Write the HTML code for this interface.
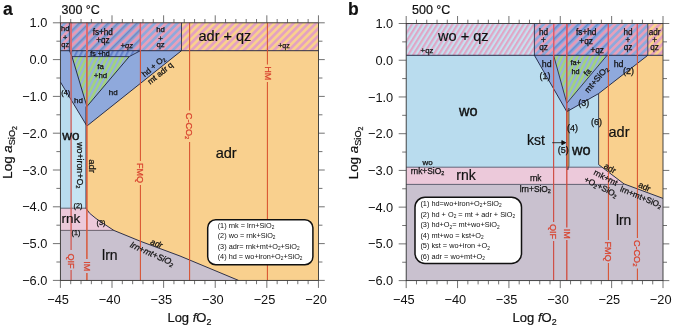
<!DOCTYPE html>
<html><head><meta charset="utf-8"><title>fig</title>
<style>
html,body{margin:0;padding:0;background:#fff;}
body{width:675px;height:329px;overflow:hidden;}
svg{display:block;font-family:"Liberation Sans",sans-serif;will-change:transform;}

</style></head><body>
<svg width="675" height="329" viewBox="0 0 675 329" fill="#111">
<defs>
<pattern id="pOP" width="5.3" height="5.3" patternUnits="userSpaceOnUse" patternTransform="rotate(45)"><rect width="5.3" height="5.3" fill="#f9d08e"/><rect width="2.65" height="5.3" fill="#e4a2c0"/></pattern>
<pattern id="pBP" width="5.3" height="5.3" patternUnits="userSpaceOnUse" patternTransform="rotate(45)"><rect width="5.3" height="5.3" fill="#8fa9dc"/><rect width="2.65" height="5.3" fill="#e6a0bb"/></pattern>
<pattern id="pBP2" width="6.8" height="6.8" patternUnits="userSpaceOnUse" patternTransform="rotate(45)"><rect x="0.00" width="2.77" height="6.8" fill="#e898b6"/><rect x="2.72" width="1.34" height="6.8" fill="#8fa9de"/><rect x="4.01" width="1.55" height="6.8" fill="#5c7ac8"/><rect x="5.51" width="1.34" height="6.8" fill="#8fa9de"/></pattern>
<pattern id="pBL" width="4.55" height="4.55" patternUnits="userSpaceOnUse" patternTransform="rotate(27)"><rect width="4.55" height="4.55" fill="#8fa9dc"/><rect width="2.05" height="4.55" fill="#6482cc"/></pattern>
<pattern id="pGB" width="4.55" height="4.55" patternUnits="userSpaceOnUse" patternTransform="rotate(27)"><rect width="4.55" height="4.55" fill="#a2d47c"/><rect width="2.05" height="4.55" fill="#96b0dc"/></pattern>
<pattern id="pLP" width="4.3" height="4.3" patternUnits="userSpaceOnUse" patternTransform="rotate(32)"><rect width="4.3" height="4.3" fill="#c6e0f0"/><rect width="2.15" height="4.3" fill="#dfa6c6"/></pattern>
</defs>
<rect width="675" height="329" fill="#fff"/>
<polygon points="60.4,22.8 318.4,22.8 318.4,280.4 60.4,280.4" fill="#f9d08e" stroke="none" stroke-width="0.8" stroke-linejoin="round"/>
<polygon points="60.4,230.4 113.8,230.4 141.0,241.5 180.0,256.0 238.5,280.4 60.4,280.4" fill="#c9c1cf" stroke="none" stroke-width="0.8" stroke-linejoin="round"/>
<polygon points="60.4,208.2 86.9,208.2 88.0,211.0 96.0,218.5 113.8,230.4 60.4,230.4" fill="#ecc9da" stroke="none" stroke-width="0.8" stroke-linejoin="round"/>
<polygon points="60.4,82.0 86.9,126.0 86.9,208.2 60.4,208.2" fill="#c6e4f3" stroke="none" stroke-width="0.8" stroke-linejoin="round"/>
<polygon points="60.4,82.0 71.1,99.6 71.1,208.2 60.4,208.2" fill="#b9dcee" stroke="none" stroke-width="0.8" stroke-linejoin="round"/>
<polygon points="60.4,50.7 181.5,50.7 86.9,126.0 60.4,82.0" fill="#8fa9dc" stroke="none" stroke-width="0.8" stroke-linejoin="round"/>
<polygon points="60.4,22.8 71.1,22.8 71.1,50.7 60.4,50.7" fill="url(#pBP)" stroke="none" stroke-width="0.8" stroke-linejoin="round"/>
<polygon points="71.1,22.8 140.4,22.8 140.4,50.7 71.1,50.7" fill="url(#pBP2)" stroke="none" stroke-width="0.8" stroke-linejoin="round"/>
<polygon points="140.4,22.8 181.5,22.8 181.5,50.7 140.4,50.7" fill="url(#pBP)" stroke="none" stroke-width="0.8" stroke-linejoin="round"/>
<polygon points="181.5,22.8 318.4,22.8 318.4,50.7 181.5,50.7" fill="url(#pOP)" stroke="none" stroke-width="0.8" stroke-linejoin="round"/>
<polygon points="70.0,50.7 140.4,50.7 129.2,56.6 72.0,56.6" fill="url(#pBL)" stroke="none" stroke-width="0.8" stroke-linejoin="round"/>
<polygon points="72.0,56.6 129.2,56.6 86.9,106.5" fill="url(#pGB)" stroke="none" stroke-width="0.8" stroke-linejoin="round"/>
<line x1="60.4" y1="50.7" x2="318.4" y2="50.7" stroke="#1a1f3c" stroke-width="0.9"/>
<line x1="181.5" y1="22.8" x2="181.5" y2="50.7" stroke="#1a1f3c" stroke-width="0.8"/>
<line x1="181.5" y1="50.7" x2="86.9" y2="126.0" stroke="#1a1f3c" stroke-width="0.9"/>
<line x1="60.4" y1="82.0" x2="86.9" y2="126.0" stroke="#1a1f3c" stroke-width="0.9"/>
<line x1="69.4" y1="22.8" x2="69.4" y2="50.7" stroke="#1a1f3c" stroke-width="0.7"/>
<line x1="69.4" y1="50.7" x2="72.0" y2="56.6" stroke="#1a1f3c" stroke-width="0.8"/>
<line x1="72.0" y1="56.6" x2="86.9" y2="106.5" stroke="#1a1f3c" stroke-width="0.9"/>
<line x1="72.0" y1="56.6" x2="129.2" y2="56.6" stroke="#1a1f3c" stroke-width="0.8"/>
<line x1="140.4" y1="50.7" x2="129.2" y2="56.6" stroke="#1a1f3c" stroke-width="0.8"/>
<line x1="129.2" y1="56.6" x2="86.9" y2="106.5" stroke="#1a1f3c" stroke-width="0.9"/>
<line x1="60.4" y1="208.2" x2="86.9" y2="208.2" stroke="#4a4a5c" stroke-width="0.8"/>
<line x1="60.4" y1="230.4" x2="113.8" y2="230.4" stroke="#4a4a5c" stroke-width="0.8"/>
<path d="M86.0,106.5 L86.0,208.2 Q88,213 96,218.5 T113.8,230.4 L141,241.5 L180,256 L238.5,280.4" fill="none" stroke="#1a1f3c" stroke-width="0.9"/>
<g id="redA">
<line x1="71.1" y1="22.8" x2="71.1" y2="250.0" stroke="#cf5a55" stroke-width="1.3"/>
<line x1="71.1" y1="270.0" x2="71.1" y2="280.4" stroke="#cf5a55" stroke-width="1.3"/>
<line x1="86.9" y1="22.8" x2="86.9" y2="259.0" stroke="#d9583a" stroke-width="1.5"/>
<line x1="86.9" y1="273.0" x2="86.9" y2="280.4" stroke="#d9583a" stroke-width="1.5"/>
<line x1="140.4" y1="22.8" x2="140.4" y2="161.0" stroke="#d8502e" stroke-width="1.05"/>
<line x1="140.4" y1="185.0" x2="140.4" y2="280.4" stroke="#d8502e" stroke-width="1.05"/>
<line x1="189.6" y1="22.8" x2="189.6" y2="110.5" stroke="#d8502e" stroke-width="1.05"/>
<line x1="189.6" y1="142.0" x2="189.6" y2="280.4" stroke="#d8502e" stroke-width="1.05"/>
<line x1="267.4" y1="22.8" x2="267.4" y2="64.5" stroke="#d8502e" stroke-width="1.05"/>
<line x1="267.4" y1="82.0" x2="267.4" y2="280.4" stroke="#d8502e" stroke-width="1.05"/>
<line x1="71.1" y1="22.8" x2="71.1" y2="50.7" stroke="#e06a72" stroke-width="1.6"/>
<line x1="86.9" y1="22.8" x2="86.9" y2="50.7" stroke="#e06a72" stroke-width="1.6"/>
<line x1="140.4" y1="22.8" x2="140.4" y2="50.7" stroke="#e0606a" stroke-width="1.3"/>
</g>
<text x="67.9" y="261.0" font-size="9.1" text-anchor="middle" transform="rotate(90 67.9 261.0)" fill="#d8432f" stroke="#d8432f" stroke-width="0.25" >QIF</text>
<text x="83.7" y="266.2" font-size="9.1" text-anchor="middle" transform="rotate(90 83.7 266.2)" fill="#d8432f" stroke="#d8432f" stroke-width="0.25" >IM</text>
<text x="137.2" y="173.0" font-size="9.1" text-anchor="middle" transform="rotate(90 137.2 173.0)" fill="#d8432f" stroke="#d8432f" stroke-width="0.25" >FMQ</text>
<text x="186.0" y="126.1" font-size="9.1" text-anchor="middle" transform="rotate(90 186.0 126.1)" fill="#d8432f" stroke="#d8432f" stroke-width="0.25" >C-CO<tspan dy="1.5" font-size="65%">2</tspan><tspan dy="-1.5">&#8203;</tspan></text>
<text x="264.6" y="73.3" font-size="9.1" text-anchor="middle" transform="rotate(90 264.6 73.3)" fill="#d8432f" stroke="#d8432f" stroke-width="0.25" >HM</text>
<text x="65.2" y="31.4" font-size="7.4" text-anchor="middle" stroke="#111" stroke-width="0.25" >hd</text>
<text x="65.2" y="40.2" font-size="7.4" text-anchor="middle" stroke="#111" stroke-width="0.25" >+</text>
<text x="65.2" y="46.6" font-size="7.4" text-anchor="middle" stroke="#111" stroke-width="0.25" >qz</text>
<text x="102.8" y="34.8" font-size="8.2" text-anchor="middle" stroke="#111" stroke-width="0.25" >fs+hd</text>
<text x="103.0" y="42.6" font-size="8.2" text-anchor="middle" stroke="#111" stroke-width="0.25" >+qz</text>
<text x="126.8" y="47.5" font-size="7.6" text-anchor="middle" stroke="#111" stroke-width="0.25" font-style="italic">+qz</text>
<text x="100.0" y="55.9" font-size="7" text-anchor="middle" stroke="#111" stroke-width="0.25" >fs +hd</text>
<text x="160.5" y="32.0" font-size="7.8" text-anchor="middle" stroke="#111" stroke-width="0.25" >hd</text>
<text x="160.5" y="40.8" font-size="7.8" text-anchor="middle" stroke="#111" stroke-width="0.25" >+</text>
<text x="160.5" y="47.0" font-size="7.8" text-anchor="middle" stroke="#111" stroke-width="0.25" >qz</text>
<text x="224.9" y="41.2" font-size="14.5" text-anchor="middle" stroke="#111" stroke-width="0.2" >adr + qz</text>
<text x="284.0" y="48.0" font-size="7" text-anchor="middle" stroke="#111" stroke-width="0.25" >+qz</text>
<text x="100.5" y="69.0" font-size="7.9" text-anchor="middle" stroke="#111" stroke-width="0.25" >fa</text>
<text x="100.5" y="78.0" font-size="7.9" text-anchor="middle" stroke="#111" stroke-width="0.25" >+hd</text>
<text x="113.2" y="94.5" font-size="8" text-anchor="middle" stroke="#111" stroke-width="0.25" >hd</text>
<text x="78.4" y="103.0" font-size="8" text-anchor="middle" stroke="#111" stroke-width="0.25" >hd</text>
<text x="65.7" y="95.0" font-size="7.2" text-anchor="middle" stroke="#111" stroke-width="0.25" >(4)</text>
<text x="155.3" y="68.4" font-size="8.2" text-anchor="middle" transform="rotate(-40 155.3 68.4)" stroke="#111" stroke-width="0.25" >hd + O<tspan dy="1.5" font-size="65%">2</tspan><tspan dy="-1.5">&#8203;</tspan></text>
<text x="162.0" y="75.3" font-size="8.2" text-anchor="middle" transform="rotate(-39 162.0 75.3)" stroke="#111" stroke-width="0.25" >mt adr q</text>
<text x="71.0" y="140.4" font-size="13.5" text-anchor="middle" stroke="#111" stroke-width="0.4" >wo</text>
<text x="77.3" y="165.3" font-size="8.8" text-anchor="middle" transform="rotate(90 77.3 165.3)" stroke="#111" stroke-width="0.25" >wo+iron+O<tspan dy="1.5" font-size="65%">2</tspan><tspan dy="-1.5">&#8203;</tspan></text>
<text x="88.7" y="166.0" font-size="9.5" text-anchor="middle" transform="rotate(90 88.7 166.0)" stroke="#111" stroke-width="0.25" >adr</text>
<text x="226.2" y="157.6" font-size="14.6" text-anchor="middle" stroke="#111" stroke-width="0.2" >adr</text>
<text x="71.0" y="223.0" font-size="13.5" text-anchor="middle" stroke="#111" stroke-width="0.2" >rnk</text>
<text x="109.8" y="259.8" font-size="14" text-anchor="middle" stroke="#111" stroke-width="0.2" >lrn</text>
<text x="78.0" y="208.3" font-size="7.2" text-anchor="middle" stroke="#111" stroke-width="0.25" >(2)</text>
<text x="101.0" y="225.3" font-size="7.2" text-anchor="middle" stroke="#111" stroke-width="0.25" >(3)</text>
<text x="76.0" y="235.0" font-size="7.2" text-anchor="middle" stroke="#111" stroke-width="0.25" >(1)</text>
<text x="155.5" y="246.3" font-size="8.5" text-anchor="middle" transform="rotate(22 155.5 246.3)" stroke="#111" stroke-width="0.25" font-style="italic">adr</text>
<text x="151.0" y="256.5" font-size="8.7" text-anchor="middle" transform="rotate(24 151.0 256.5)" stroke="#111" stroke-width="0.25" font-style="italic">lrn+mt+SiO<tspan dy="1.5" font-size="65%">2</tspan><tspan dy="-1.5">&#8203;</tspan></text>
<rect x="207.7" y="219.8" width="105.2" height="44.9" rx="8" ry="8" fill="#fff" stroke="#111" stroke-width="1.5"/>
<text x="217.7" y="227.6" font-size="7.3" text-anchor="start" stroke="#111" stroke-width="0" >(1) rnk = lrn+SiO<tspan dy="1.3" font-size="65%">2</tspan><tspan dy="-1.3">&#8203;</tspan></text>
<text x="217.7" y="238.0" font-size="7.3" text-anchor="start" stroke="#111" stroke-width="0" >(2) wo = rnk+SiO<tspan dy="1.3" font-size="65%">2</tspan><tspan dy="-1.3">&#8203;</tspan></text>
<text x="217.7" y="248.5" font-size="7.3" text-anchor="start" stroke="#111" stroke-width="0" >(3) adr= rnk+mt+O<tspan dy="1.3" font-size="65%">2</tspan><tspan dy="-1.3">&#8203;</tspan>+SiO<tspan dy="1.3" font-size="65%">2</tspan><tspan dy="-1.3">&#8203;</tspan></text>
<text x="217.7" y="258.9" font-size="7.3" text-anchor="start" stroke="#111" stroke-width="0" >(4) hd = wo+iron+O<tspan dy="1.3" font-size="65%">2</tspan><tspan dy="-1.3">&#8203;</tspan>+SiO<tspan dy="1.3" font-size="65%">2</tspan><tspan dy="-1.3">&#8203;</tspan></text>
<rect x="60.4" y="22.8" width="258.1" height="257.6" fill="none" stroke="#333" stroke-width="0.9"/>
<path d="M60.40,280.4v7.5 M60.40,22.8v-7.5 M70.72,280.4v3.8 M70.72,22.8v-3.8 M81.04,280.4v3.8 M81.04,22.8v-3.8 M91.37,280.4v3.8 M91.37,22.8v-3.8 M101.69,280.4v3.8 M101.69,22.8v-3.8 M112.01,280.4v7.5 M112.01,22.8v-7.5 M122.33,280.4v3.8 M122.33,22.8v-3.8 M132.65,280.4v3.8 M132.65,22.8v-3.8 M142.98,280.4v3.8 M142.98,22.8v-3.8 M153.30,280.4v3.8 M153.30,22.8v-3.8 M163.62,280.4v7.5 M163.62,22.8v-7.5 M173.94,280.4v3.8 M173.94,22.8v-3.8 M184.26,280.4v3.8 M184.26,22.8v-3.8 M194.59,280.4v3.8 M194.59,22.8v-3.8 M204.91,280.4v3.8 M204.91,22.8v-3.8 M215.23,280.4v7.5 M215.23,22.8v-7.5 M225.55,280.4v3.8 M225.55,22.8v-3.8 M235.87,280.4v3.8 M235.87,22.8v-3.8 M246.20,280.4v3.8 M246.20,22.8v-3.8 M256.52,280.4v3.8 M256.52,22.8v-3.8 M266.84,280.4v7.5 M266.84,22.8v-7.5 M277.16,280.4v3.8 M277.16,22.8v-3.8 M287.48,280.4v3.8 M287.48,22.8v-3.8 M297.81,280.4v3.8 M297.81,22.8v-3.8 M308.13,280.4v3.8 M308.13,22.8v-3.8 M318.45,280.4v7.5 M318.45,22.8v-7.5 M60.4,22.80h-7.5 M318.45,22.80h6.3 M60.4,41.20h-4 M318.45,41.20h4 M60.4,59.60h-7.5 M318.45,59.60h6.3 M60.4,78.00h-4 M318.45,78.00h4 M60.4,96.40h-7.5 M318.45,96.40h6.3 M60.4,114.80h-4 M318.45,114.80h4 M60.4,133.20h-7.5 M318.45,133.20h6.3 M60.4,151.60h-4 M318.45,151.60h4 M60.4,170.00h-7.5 M318.45,170.00h6.3 M60.4,188.40h-4 M318.45,188.40h4 M60.4,206.80h-7.5 M318.45,206.80h6.3 M60.4,225.20h-4 M318.45,225.20h4 M60.4,243.60h-7.5 M318.45,243.60h6.3 M60.4,262.00h-4 M318.45,262.00h4 M60.4,280.40h-7.5 M318.45,280.40h6.3" stroke="#444" stroke-width="0.75" fill="none"/>
<text x="58.1" y="303.8" font-size="12.8" text-anchor="middle" stroke="#111" stroke-width="0" >&#8722;45</text>
<text x="109.7" y="303.8" font-size="12.8" text-anchor="middle" stroke="#111" stroke-width="0" >&#8722;40</text>
<text x="161.3" y="303.8" font-size="12.8" text-anchor="middle" stroke="#111" stroke-width="0" >&#8722;35</text>
<text x="212.9" y="303.8" font-size="12.8" text-anchor="middle" stroke="#111" stroke-width="0" >&#8722;30</text>
<text x="264.5" y="303.8" font-size="12.8" text-anchor="middle" stroke="#111" stroke-width="0" >&#8722;25</text>
<text x="316.1" y="303.8" font-size="12.8" text-anchor="middle" stroke="#111" stroke-width="0" >&#8722;20</text>
<text x="47.4" y="27.3" font-size="12.8" text-anchor="end" stroke="#111" stroke-width="0" >1.0</text>
<text x="47.4" y="64.1" font-size="12.8" text-anchor="end" stroke="#111" stroke-width="0" >0.0</text>
<text x="47.4" y="100.9" font-size="12.8" text-anchor="end" stroke="#111" stroke-width="0" >&#8722;1.0</text>
<text x="47.4" y="137.7" font-size="12.8" text-anchor="end" stroke="#111" stroke-width="0" >&#8722;2.0</text>
<text x="47.4" y="174.5" font-size="12.8" text-anchor="end" stroke="#111" stroke-width="0" >&#8722;3.0</text>
<text x="47.4" y="211.3" font-size="12.8" text-anchor="end" stroke="#111" stroke-width="0" >&#8722;4.0</text>
<text x="47.4" y="248.1" font-size="12.8" text-anchor="end" stroke="#111" stroke-width="0" >&#8722;5.0</text>
<text x="47.4" y="284.9" font-size="12.8" text-anchor="end" stroke="#111" stroke-width="0" >&#8722;6.0</text>
<text x="189.4" y="322.4" font-size="13" text-anchor="middle" stroke="#111" stroke-width="0.2" >Log <tspan font-style="italic">f</tspan>O<tspan dy="2.5" font-size="68%">2</tspan><tspan dy="-2.5">&#8203;</tspan></text>
<text x="11.9" y="152.4" font-size="13.4" text-anchor="middle" transform="rotate(-90 11.9 152.4)" stroke="#111" stroke-width="0.2" >Log <tspan font-style="italic">a</tspan><tspan dy="3.4" font-size="9.2">SiO</tspan><tspan dy="2" font-size="7">2</tspan></text>
<text x="3.0" y="15.1" font-size="17.5" text-anchor="start" stroke="#111" stroke-width="0.2" font-weight="bold">a</text>
<text x="61.5" y="13.9" font-size="12.5" text-anchor="start" stroke="#111" stroke-width="0.2" >300 &#176;C</text>
<polygon points="406.2,23.5 663.0,23.5 663.0,280.6 406.2,280.6" fill="#b9dcee" stroke="none" stroke-width="0.8" stroke-linejoin="round"/>
<polygon points="406.2,184.0 624.0,183.9 663.0,198.4 663.0,280.6 406.2,280.6" fill="#c9c1cf" stroke="none" stroke-width="0.8" stroke-linejoin="round"/>
<polygon points="406.2,167.2 601.8,167.2 624.0,183.9 406.2,184.0" fill="#ecc9da" stroke="none" stroke-width="0.8" stroke-linejoin="round"/>
<polygon points="598.6,93.6 647.8,55.3 663.0,55.3 663.0,198.4 624.0,183.9 598.6,164.6" fill="#f9d08e" stroke="none" stroke-width="0.8" stroke-linejoin="round"/>
<polygon points="534.4,55.3 647.8,55.3 598.6,93.6 566.8,111.7" fill="#8fa9dc" stroke="none" stroke-width="0.8" stroke-linejoin="round"/>
<polygon points="406.2,23.5 534.4,23.5 534.4,55.3 406.2,55.3" fill="url(#pLP)" stroke="none" stroke-width="0.8" stroke-linejoin="round"/>
<polygon points="534.4,23.5 553.6,23.5 553.6,55.3 534.4,55.3" fill="url(#pBP)" stroke="none" stroke-width="0.8" stroke-linejoin="round"/>
<polygon points="553.6,23.5 566.8,23.5 566.8,55.3 553.6,55.3" fill="url(#pBP2)" stroke="none" stroke-width="0.8" stroke-linejoin="round"/>
<polygon points="566.8,23.5 608.4,23.5 608.4,55.3 566.8,55.3" fill="url(#pBP2)" stroke="none" stroke-width="0.8" stroke-linejoin="round"/>
<polygon points="608.4,23.5 647.8,23.5 647.8,55.3 608.4,55.3" fill="url(#pBP)" stroke="none" stroke-width="0.8" stroke-linejoin="round"/>
<polygon points="647.8,23.5 663.0,23.5 663.0,55.3 647.8,55.3" fill="url(#pOP)" stroke="none" stroke-width="0.8" stroke-linejoin="round"/>
<polygon points="553.6,55.3 607.1,55.3 566.8,103.2" fill="url(#pGB)" stroke="none" stroke-width="0.8" stroke-linejoin="round"/>
<polygon points="566.6,111.9 569.0,108.0 569.0,166.0 567.8,170.0 566.6,166.0" fill="#d9a45f" stroke="#1a1f3c" stroke-width="0.6" stroke-linejoin="round"/>
<line x1="406.2" y1="55.3" x2="663.0" y2="55.3" stroke="#1a1f3c" stroke-width="0.9"/>
<line x1="534.4" y1="23.5" x2="534.4" y2="55.3" stroke="#1a1f3c" stroke-width="0.8"/>
<line x1="647.8" y1="23.5" x2="647.8" y2="55.3" stroke="#1a1f3c" stroke-width="0.8"/>
<line x1="534.4" y1="55.3" x2="566.8" y2="111.7" stroke="#1a1f3c" stroke-width="0.9"/>
<line x1="647.8" y1="55.3" x2="598.6" y2="93.6" stroke="#1a1f3c" stroke-width="0.9"/>
<line x1="598.6" y1="93.6" x2="566.8" y2="111.7" stroke="#1a1f3c" stroke-width="0.9"/>
<line x1="553.6" y1="55.3" x2="566.8" y2="103.2" stroke="#1a1f3c" stroke-width="0.8"/>
<line x1="607.1" y1="55.3" x2="566.8" y2="103.2" stroke="#1a1f3c" stroke-width="0.8"/>
<line x1="598.6" y1="93.6" x2="598.6" y2="164.6" stroke="#1a1f3c" stroke-width="0.8"/>
<line x1="598.6" y1="164.6" x2="624.0" y2="183.9" stroke="#1a1f3c" stroke-width="0.9"/>
<line x1="624.0" y1="183.9" x2="663.0" y2="198.4" stroke="#1a1f3c" stroke-width="0.9"/>
<line x1="406.2" y1="167.2" x2="601.8" y2="167.2" stroke="#4a4a5c" stroke-width="0.8"/>
<line x1="406.2" y1="184.4" x2="624.0" y2="184.4" stroke="#4a4a5c" stroke-width="0.8"/>
<line x1="553.6" y1="23.5" x2="553.6" y2="222.0" stroke="#cf5048" stroke-width="1.2"/>
<line x1="553.6" y1="241.0" x2="553.6" y2="280.6" stroke="#cf5048" stroke-width="1.2"/>
<line x1="566.8" y1="23.5" x2="566.8" y2="227.5" stroke="#d04a3c" stroke-width="1.3"/>
<line x1="566.8" y1="240.0" x2="566.8" y2="280.6" stroke="#d04a3c" stroke-width="1.3"/>
<line x1="608.4" y1="23.5" x2="608.4" y2="240.0" stroke="#d8502e" stroke-width="1.05"/>
<line x1="608.4" y1="263.0" x2="608.4" y2="280.6" stroke="#d8502e" stroke-width="1.05"/>
<line x1="637.4" y1="23.5" x2="637.4" y2="238.0" stroke="#d8502e" stroke-width="1.05"/>
<line x1="637.4" y1="268.5" x2="637.4" y2="280.6" stroke="#d8502e" stroke-width="1.05"/>
<line x1="553.6" y1="23.5" x2="553.6" y2="55.3" stroke="#e0586a" stroke-width="1.25"/>
<line x1="566.8" y1="23.5" x2="566.8" y2="55.3" stroke="#e0586a" stroke-width="1.25"/>
<line x1="608.4" y1="23.5" x2="608.4" y2="55.3" stroke="#e0586a" stroke-width="1.25"/>
<line x1="637.4" y1="23.5" x2="637.4" y2="55.3" stroke="#e0586a" stroke-width="1.25"/>
<text x="550.4" y="231.5" font-size="9.1" text-anchor="middle" transform="rotate(90 550.4 231.5)" fill="#d8432f" stroke="#d8432f" stroke-width="0.25" >QIF</text>
<text x="563.6" y="233.7" font-size="9.1" text-anchor="middle" transform="rotate(90 563.6 233.7)" fill="#d8432f" stroke="#d8432f" stroke-width="0.25" >IM</text>
<text x="605.2" y="251.6" font-size="9.1" text-anchor="middle" transform="rotate(90 605.2 251.6)" fill="#d8432f" stroke="#d8432f" stroke-width="0.25" >FMQ</text>
<text x="634.0" y="253.2" font-size="9.1" text-anchor="middle" transform="rotate(90 634.0 253.2)" fill="#d8432f" stroke="#d8432f" stroke-width="0.25" >C-CO<tspan dy="1.5" font-size="65%">2</tspan><tspan dy="-1.5">&#8203;</tspan></text>
<text x="463.3" y="41.3" font-size="14.6" text-anchor="middle" stroke="#111" stroke-width="0.2" >wo + qz</text>
<text x="427.0" y="52.8" font-size="7.8" text-anchor="middle" stroke="#111" stroke-width="0.25" >+qz</text>
<text x="543.5" y="34.6" font-size="8.2" text-anchor="middle" stroke="#111" stroke-width="0.25" >hd</text>
<text x="543.5" y="43.3" font-size="8.2" text-anchor="middle" stroke="#111" stroke-width="0.25" >+</text>
<text x="543.5" y="50.3" font-size="8.2" text-anchor="middle" stroke="#111" stroke-width="0.25" >qz</text>
<text x="586.2" y="34.7" font-size="8.3" text-anchor="middle" stroke="#111" stroke-width="0.25" >fs+hd</text>
<text x="586.1" y="43.5" font-size="8.3" text-anchor="middle" stroke="#111" stroke-width="0.25" >+qz</text>
<text x="597.2" y="53.1" font-size="8.3" text-anchor="middle" stroke="#111" stroke-width="0.25" >+qz</text>
<text x="628.0" y="34.8" font-size="8.2" text-anchor="middle" stroke="#111" stroke-width="0.25" >hd</text>
<text x="628.0" y="43.4" font-size="8.2" text-anchor="middle" stroke="#111" stroke-width="0.25" >+</text>
<text x="628.0" y="50.2" font-size="8.2" text-anchor="middle" stroke="#111" stroke-width="0.25" >qz</text>
<text x="654.6" y="34.8" font-size="8.2" text-anchor="middle" stroke="#111" stroke-width="0.25" >adr</text>
<text x="654.6" y="43.4" font-size="8.2" text-anchor="middle" stroke="#111" stroke-width="0.25" >+</text>
<text x="654.6" y="50.2" font-size="8.2" text-anchor="middle" stroke="#111" stroke-width="0.25" >qz</text>
<text x="546.7" y="66.5" font-size="8.8" text-anchor="middle" stroke="#111" stroke-width="0.25" >hd</text>
<text x="618.6" y="66.6" font-size="8.8" text-anchor="middle" stroke="#111" stroke-width="0.25" >hd</text>
<text x="575.6" y="65.3" font-size="7.3" text-anchor="middle" stroke="#111" stroke-width="0.25" >fa+</text>
<text x="575.6" y="73.8" font-size="7.3" text-anchor="middle" stroke="#111" stroke-width="0.25" >hd</text>
<text x="589.5" y="74.0" font-size="8" text-anchor="middle" transform="rotate(-50 589.5 74.0)" stroke="#111" stroke-width="0.25" >fa</text>
<text x="598.5" y="81.4" font-size="8.5" text-anchor="middle" transform="rotate(-50 598.5 81.4)" stroke="#111" stroke-width="0.25" >mt+SiO<tspan dy="1.5" font-size="65%">2</tspan><tspan dy="-1.5">&#8203;</tspan></text>
<text x="545.0" y="79.3" font-size="9" text-anchor="middle" stroke="#111" stroke-width="0.25" >(1)</text>
<text x="628.4" y="73.6" font-size="9" text-anchor="middle" stroke="#111" stroke-width="0.25" >(2)</text>
<text x="583.7" y="106.3" font-size="9" text-anchor="middle" stroke="#111" stroke-width="0.25" >(3)</text>
<text x="572.5" y="131.0" font-size="9" text-anchor="middle" stroke="#111" stroke-width="0.25" >(4)</text>
<text x="596.5" y="125.0" font-size="9" text-anchor="middle" stroke="#111" stroke-width="0.25" >(6)</text>
<text x="563.3" y="153.0" font-size="9" text-anchor="middle" stroke="#111" stroke-width="0.25" >(5)</text>
<text x="468.2" y="116.4" font-size="14.5" text-anchor="middle" stroke="#111" stroke-width="0.4" >wo</text>
<text x="581.2" y="155.2" font-size="14.5" text-anchor="middle" stroke="#111" stroke-width="0.4" >wo</text>
<text x="619.0" y="136.5" font-size="14.5" text-anchor="middle" stroke="#111" stroke-width="0.2" >adr</text>
<text x="527.0" y="144.6" font-size="14" text-anchor="start" stroke="#111" stroke-width="0.2" >kst</text>
<path d="M552.2,142.7 H564.5 M561.8,140.6 L565.8,142.7 L561.8,144.8 Z" stroke="#111" stroke-width="0.8" fill="#111"/>
<text x="427.6" y="164.5" font-size="8" text-anchor="middle" stroke="#111" stroke-width="0.25" >wo</text>
<text x="410.7" y="174.0" font-size="8.4" text-anchor="start" stroke="#111" stroke-width="0.25" >rnk+SiO<tspan dy="1.3" font-size="65%">2</tspan><tspan dy="-1.3">&#8203;</tspan></text>
<text x="466.1" y="179.9" font-size="14" text-anchor="middle" stroke="#111" stroke-width="0.2" >rnk</text>
<text x="535.7" y="181.0" font-size="8.3" text-anchor="middle" stroke="#111" stroke-width="0.25" >rnk</text>
<text x="535.3" y="191.7" font-size="8.4" text-anchor="middle" stroke="#111" stroke-width="0.25" >lrn+SiO<tspan dy="1.3" font-size="65%">2</tspan><tspan dy="-1.3">&#8203;</tspan></text>
<text x="623.6" y="225.3" font-size="13.8" text-anchor="middle" stroke="#111" stroke-width="0.2" >lrn</text>
<text x="608.6" y="170.9" font-size="8.6" text-anchor="middle" transform="rotate(29 608.6 170.9)" stroke="#111" stroke-width="0.25" >adr</text>
<text x="604.4" y="180.2" font-size="8.4" text-anchor="middle" transform="rotate(27 604.4 180.2)" stroke="#111" stroke-width="0.25" >rnk+mt</text>
<text x="599.7" y="189.5" font-size="8.4" text-anchor="middle" transform="rotate(27 599.7 189.5)" stroke="#111" stroke-width="0.25" >+O<tspan dy="1.3" font-size="65%">2</tspan><tspan dy="-1.3">&#8203;</tspan>+SiO<tspan dy="1.3" font-size="65%">2</tspan><tspan dy="-1.3">&#8203;</tspan></text>
<text x="643.3" y="189.4" font-size="8.6" text-anchor="middle" transform="rotate(25 643.3 189.4)" stroke="#111" stroke-width="0.25" >adr</text>
<text x="640.0" y="199.6" font-size="8.2" text-anchor="middle" transform="rotate(23 640.0 199.6)" stroke="#111" stroke-width="0.25" >lrn+mt+SiO<tspan dy="1.3" font-size="65%">2</tspan><tspan dy="-1.3">&#8203;</tspan></text>
<rect x="415" y="197.2" width="106.5" height="66.3" rx="10" ry="10" fill="#fff" stroke="#111" stroke-width="1.5"/>
<text x="420.4" y="206.0" font-size="7.35" text-anchor="start" stroke="#111" stroke-width="0" >(1) hd=wo+iron+O<tspan dy="1.3" font-size="65%">2</tspan><tspan dy="-1.3">&#8203;</tspan>+SiO<tspan dy="1.3" font-size="65%">2</tspan><tspan dy="-1.3">&#8203;</tspan></text>
<text x="420.4" y="216.6" font-size="7.35" text-anchor="start" stroke="#111" stroke-width="0" >(2) hd + O<tspan dy="1.3" font-size="65%">2</tspan><tspan dy="-1.3">&#8203;</tspan> = mt + adr + SiO<tspan dy="1.3" font-size="65%">2</tspan><tspan dy="-1.3">&#8203;</tspan></text>
<text x="420.4" y="227.2" font-size="7.35" text-anchor="start" stroke="#111" stroke-width="0" >(3) hd+O<tspan dy="1.3" font-size="65%">2</tspan><tspan dy="-1.3">&#8203;</tspan>= mt+wo+SiO<tspan dy="1.3" font-size="65%">2</tspan><tspan dy="-1.3">&#8203;</tspan></text>
<text x="420.4" y="237.8" font-size="7.35" text-anchor="start" stroke="#111" stroke-width="0" >(4) mt+wo = kst+O<tspan dy="1.3" font-size="65%">2</tspan><tspan dy="-1.3">&#8203;</tspan></text>
<text x="420.4" y="248.4" font-size="7.35" text-anchor="start" stroke="#111" stroke-width="0" >(5) kst = wo+iron +O<tspan dy="1.3" font-size="65%">2</tspan><tspan dy="-1.3">&#8203;</tspan></text>
<text x="420.4" y="259.0" font-size="7.35" text-anchor="start" stroke="#111" stroke-width="0" >(6) adr = wo+mt+O<tspan dy="1.3" font-size="65%">2</tspan><tspan dy="-1.3">&#8203;</tspan></text>
<rect x="406.2" y="23.5" width="256.8" height="257.1" fill="none" stroke="#333" stroke-width="0.9"/>
<path d="M406.20,280.6v7.5 M406.20,23.5v-7.5 M416.47,280.6v3.8 M416.47,23.5v-3.8 M426.74,280.6v3.8 M426.74,23.5v-3.8 M437.02,280.6v3.8 M437.02,23.5v-3.8 M447.29,280.6v3.8 M447.29,23.5v-3.8 M457.56,280.6v7.5 M457.56,23.5v-7.5 M467.83,280.6v3.8 M467.83,23.5v-3.8 M478.10,280.6v3.8 M478.10,23.5v-3.8 M488.38,280.6v3.8 M488.38,23.5v-3.8 M498.65,280.6v3.8 M498.65,23.5v-3.8 M508.92,280.6v7.5 M508.92,23.5v-7.5 M519.19,280.6v3.8 M519.19,23.5v-3.8 M529.46,280.6v3.8 M529.46,23.5v-3.8 M539.74,280.6v3.8 M539.74,23.5v-3.8 M550.01,280.6v3.8 M550.01,23.5v-3.8 M560.28,280.6v7.5 M560.28,23.5v-7.5 M570.55,280.6v3.8 M570.55,23.5v-3.8 M580.82,280.6v3.8 M580.82,23.5v-3.8 M591.10,280.6v3.8 M591.10,23.5v-3.8 M601.37,280.6v3.8 M601.37,23.5v-3.8 M611.64,280.6v7.5 M611.64,23.5v-7.5 M621.91,280.6v3.8 M621.91,23.5v-3.8 M632.18,280.6v3.8 M632.18,23.5v-3.8 M642.46,280.6v3.8 M642.46,23.5v-3.8 M652.73,280.6v3.8 M652.73,23.5v-3.8 M663.00,280.6v7.5 M663.00,23.5v-7.5 M406.2,23.50h-7.5 M663.0,23.50h6.3 M406.2,41.86h-4 M663.0,41.86h4 M406.2,60.23h-7.5 M663.0,60.23h6.3 M406.2,78.59h-4 M663.0,78.59h4 M406.2,96.96h-7.5 M663.0,96.96h6.3 M406.2,115.32h-4 M663.0,115.32h4 M406.2,133.69h-7.5 M663.0,133.69h6.3 M406.2,152.05h-4 M663.0,152.05h4 M406.2,170.41h-7.5 M663.0,170.41h6.3 M406.2,188.78h-4 M663.0,188.78h4 M406.2,207.14h-7.5 M663.0,207.14h6.3 M406.2,225.51h-4 M663.0,225.51h4 M406.2,243.87h-7.5 M663.0,243.87h6.3 M406.2,262.24h-4 M663.0,262.24h4 M406.2,280.60h-7.5 M663.0,280.60h6.3" stroke="#444" stroke-width="0.75" fill="none"/>
<text x="403.9" y="303.8" font-size="12.8" text-anchor="middle" stroke="#111" stroke-width="0" >&#8722;45</text>
<text x="455.3" y="303.8" font-size="12.8" text-anchor="middle" stroke="#111" stroke-width="0" >&#8722;40</text>
<text x="506.6" y="303.8" font-size="12.8" text-anchor="middle" stroke="#111" stroke-width="0" >&#8722;35</text>
<text x="558.0" y="303.8" font-size="12.8" text-anchor="middle" stroke="#111" stroke-width="0" >&#8722;30</text>
<text x="609.3" y="303.8" font-size="12.8" text-anchor="middle" stroke="#111" stroke-width="0" >&#8722;25</text>
<text x="660.7" y="303.8" font-size="12.8" text-anchor="middle" stroke="#111" stroke-width="0" >&#8722;20</text>
<text x="393.2" y="28.0" font-size="12.8" text-anchor="end" stroke="#111" stroke-width="0" >1.0</text>
<text x="393.2" y="64.7" font-size="12.8" text-anchor="end" stroke="#111" stroke-width="0" >0.0</text>
<text x="393.2" y="101.5" font-size="12.8" text-anchor="end" stroke="#111" stroke-width="0" >&#8722;1.0</text>
<text x="393.2" y="138.2" font-size="12.8" text-anchor="end" stroke="#111" stroke-width="0" >&#8722;2.0</text>
<text x="393.2" y="174.9" font-size="12.8" text-anchor="end" stroke="#111" stroke-width="0" >&#8722;3.0</text>
<text x="393.2" y="211.6" font-size="12.8" text-anchor="end" stroke="#111" stroke-width="0" >&#8722;4.0</text>
<text x="393.2" y="248.4" font-size="12.8" text-anchor="end" stroke="#111" stroke-width="0" >&#8722;5.0</text>
<text x="393.2" y="285.1" font-size="12.8" text-anchor="end" stroke="#111" stroke-width="0" >&#8722;6.0</text>
<text x="534.6" y="322.4" font-size="13" text-anchor="middle" stroke="#111" stroke-width="0.2" >Log <tspan font-style="italic">f</tspan>O<tspan dy="2.5" font-size="68%">2</tspan><tspan dy="-2.5">&#8203;</tspan></text>
<text x="357.7" y="152.9" font-size="13.4" text-anchor="middle" transform="rotate(-90 357.7 152.9)" stroke="#111" stroke-width="0.2" >Log <tspan font-style="italic">a</tspan><tspan dy="3.4" font-size="9.2">SiO</tspan><tspan dy="2" font-size="7">2</tspan></text>
<text x="348.0" y="15.1" font-size="17.5" text-anchor="start" stroke="#111" stroke-width="0.2" font-weight="bold">b</text>
<text x="412.0" y="13.9" font-size="12.5" text-anchor="start" stroke="#111" stroke-width="0.2" >500 &#176;C</text>
</svg>
</body></html>
